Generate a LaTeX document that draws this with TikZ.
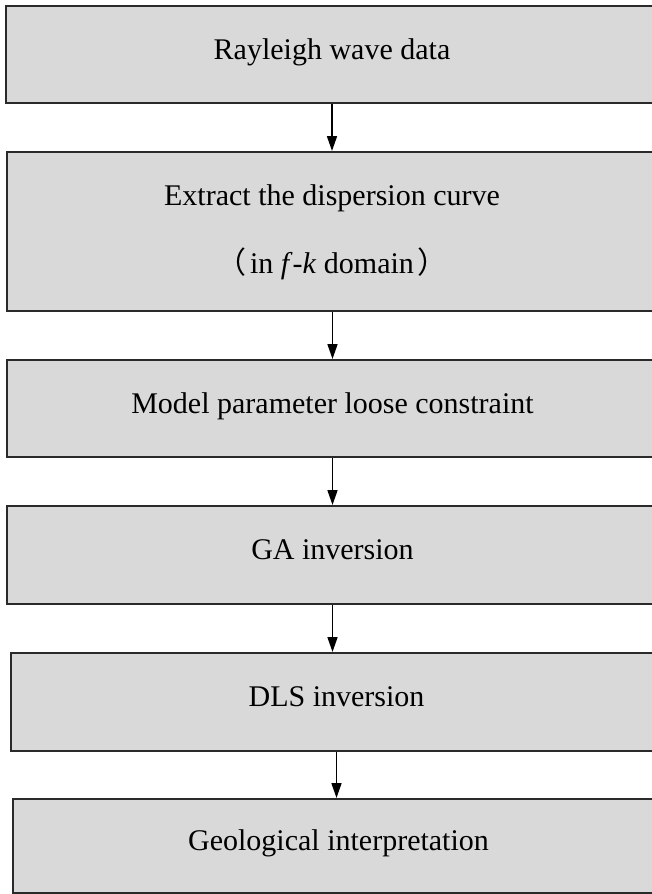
\documentclass[tikz,border=0pt]{standalone}
\usepackage{fontspec}
\setmainfont{Liberation Serif}
\newfontfamily\cjk{Noto Sans CJK SC}
\usetikzlibrary{arrows.meta}
\definecolor{boxfill}{HTML}{D9D9D9}
\definecolor{boxline}{HTML}{2A2A2A}
\begin{document}
\begin{tikzpicture}[x=1pt,y=-1pt,
  stepbox/.style={draw=boxline, fill=boxfill, line width=2pt, rectangle,
    inner sep=0pt, font=\fontsize{30pt}{36pt}\selectfont,
    text height=21pt, text depth=12pt},
  steptext/.style={inner sep=0pt, anchor=base, font=\fontsize{30pt}{36pt}\selectfont},
  arr/.style={-{Triangle[length=15pt,width=10pt]}, line width=1.7pt, black}]
\useasboundingbox (0,0) rectangle (651,894);
\node[stepbox, minimum width=652pt, minimum height=97pt] (b1) at (332,54.5) {Rayleigh wave data};
\node[stepbox, minimum width=651pt, minimum height=159pt] (b2) at (332.5,231.5) {};
\node[steptext] (t2a) at (332,205) {Extract the dispersion curve};
\node[steptext] (t2b) at (332,273) {{\cjk （}\hspace{4pt}in \textit{f}-\textit{k} domain\hspace{4pt}{\cjk ）}};
\node[stepbox, minimum width=651pt, minimum height=97pt] (b3) at (332.5,408.5) {Model parameter loose constraint};
\node[stepbox, minimum width=651pt, minimum height=98pt] (b4) at (332.5,555) {GA inversion};
\node[stepbox, minimum width=651pt, minimum height=98pt] (b5) at (336.5,702) {DLS inversion};
\node[stepbox, minimum width=651pt, minimum height=94pt] (b6) at (338.5,846) {Geological interpretation};
\draw[arr] (b1.south) -- (b1.south |- b2.north);
\draw[arr] (b2.south) -- (b2.south |- b3.north);
\draw[arr] (b3.south) -- (b3.south |- b4.north);
\draw[arr] (b4.south) -- (b4.south |- b5.north);
\draw[arr] (b5.south) -- (b5.south |- b6.north);
\end{tikzpicture}
\end{document}
